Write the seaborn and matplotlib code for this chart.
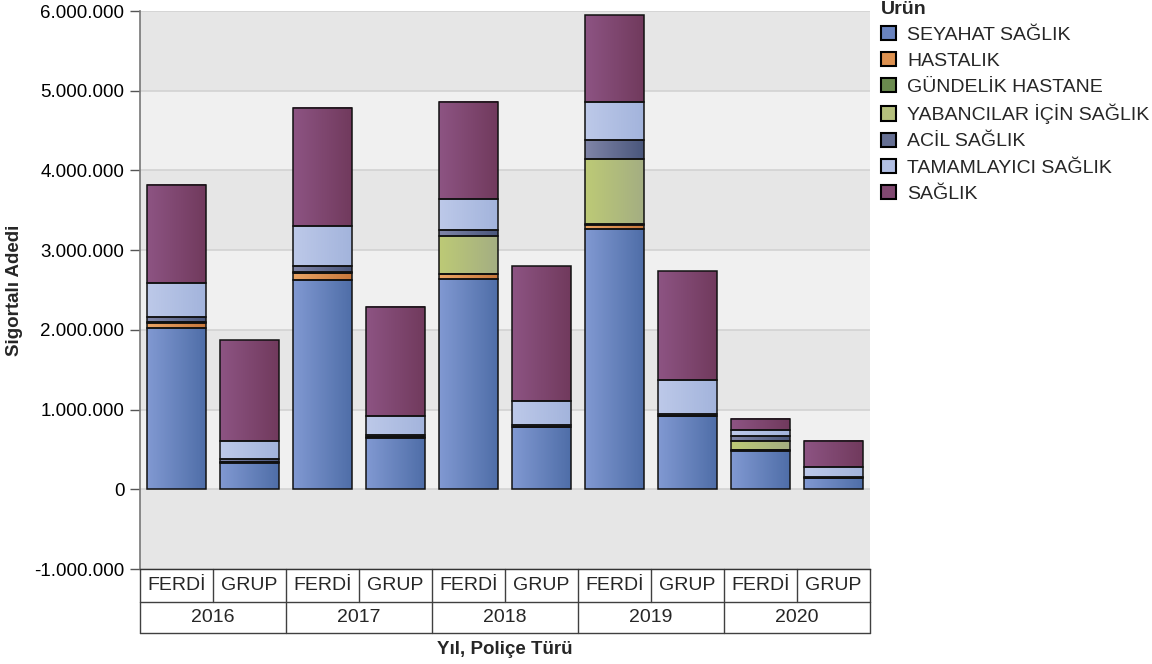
import numpy as np
import pandas as pd
import matplotlib
matplotlib.use('Agg')
import matplotlib.pyplot as plt
import matplotlib.transforms as mtrans
from matplotlib.patches import Patch
from matplotlib.ticker import FuncFormatter, FixedLocator
from matplotlib.colors import to_rgb
import seaborn as sns

# ---------------- data ----------------
years = ['2016', '2017', '2018', '2019', '2020']
policy_types = ['FERDİ', 'GRUP']
products = ['SEYAHAT SAĞLIK', 'HASTALIK', 'GÜNDELİK HASTANE', 'YABANCILAR İÇİN SAĞLIK',
            'ACİL SAĞLIK', 'TAMAMLAYICI SAĞLIK', 'SAĞLIK']

# bar order: 2016 FERDİ, 2016 GRUP, 2017 FERDİ, ... 2020 GRUP
seyahat_saglik = [2020000, 335000, 2623000, 648000, 2640000, 777000, 3270000, 915000, 485000, 142000]
hastalik = [70000, 10000, 92000, 10000, 63000, 5000, 50000, 5000, 5000, 2000]
gundelik_hastane = [3000, 1000, 3000, 1000, 3000, 1000, 3000, 1000, 2000, 1000]
yabancilar_saglik = [3000, 0, 3000, 0, 471000, 0, 818000, 0, 113000, 0]
acil_saglik = [70000, 40000, 83000, 25000, 75000, 20000, 238000, 25000, 63000, 5000]
tamamlayici_saglik = [422000, 220000, 494000, 230000, 385000, 305000, 480000, 430000, 80000, 125000]
saglik = [1232000, 1262000, 1482000, 1373000, 1224000, 1692000, 1086000, 1366000, 138000, 335000]

y_ticks = [-1000000, 0, 1000000, 2000000, 3000000, 4000000, 5000000, 6000000]

# ---------------- style ----------------
sns.set_style('white')
plt.rcParams['font.family'] = ['Liberation Sans', 'DejaVu Sans']

series = [seyahat_saglik, hastalik, gundelik_hastane, yabancilar_saglik,
          acil_saglik, tamamlayici_saglik, saglik]
grad_left = ['#8199d2', '#eaa464', '#73985a', '#bdca76', '#8085a8', '#bdc9e9', '#8d5483']
grad_right = ['#4f6ea8', '#c8783c', '#56774a', '#a4ae82', '#4a577c', '#a3b4dc', '#713a5d']
mid_cols = ['#6983bf', '#dd9150', '#6a8a4e', '#b4bf7c', '#656f93', '#b1bfe3', '#804870']
palette = dict(zip(products, mid_cols))

bar_labels = [(y, p) for y in years for p in policy_types]
rows = []
for prod, vals in zip(products, series):
    for i, v in enumerate(vals):
        rows.append({'pos': i, 'Ürün': prod, 'Sigortalı Adedi': v})
df = pd.DataFrame(rows)

fig = plt.figure(figsize=(11.52, 6.64), dpi=100)
ax = fig.add_axes([140 / 1152, 1 - 569 / 664, 730 / 1152, 558 / 664])

# alternating bands + grid
for k in range(y_ticks[0] // 1000000, y_ticks[-1] // 1000000):
    ax.axhspan(k * 1e6, (k + 1) * 1e6, color='#e6e6e6' if k % 2 else '#f0f0f0', lw=0, zorder=0)
for t in y_ticks:
    ax.axhline(t, color='#d2d2d2', lw=1.2, zorder=1)

sns.histplot(data=df, x='pos', weights='Sigortalı Adedi', hue='Ürün',
             hue_order=products[::-1], multiple='stack', discrete=True, shrink=0.8,
             palette=palette, edgecolor='#111111', linewidth=1.1, alpha=1,
             legend=False, ax=ax, zorder=3)

# gradient fill for each bar segment
col_lookup = {tuple(np.round(to_rgb(c), 3)): i for i, c in enumerate(mid_cols)}
tgrad = np.linspace(0, 1, 64)[:, None]
for p in list(ax.patches):
    fc = tuple(np.round(p.get_facecolor()[:3], 3))
    if fc in col_lookup and p.get_height() > 0:
        i = col_lookup[fc]
        l = np.array(to_rgb(grad_left[i]))
        r = np.array(to_rgb(grad_right[i]))
        img = (l * (1 - tgrad) + r * tgrad)[None, :, :]
        x0, y0, w, h = p.get_x(), p.get_y(), p.get_width(), p.get_height()
        ax.imshow(img, extent=[x0, x0 + w, y0, y0 + h], aspect='auto',
                  interpolation='bilinear', zorder=2.9)
        p.set_facecolor('none')
        p.set_zorder(3)

ax.set_xlim(-0.5, len(bar_labels) - 0.5)
ax.set_ylim(y_ticks[0], y_ticks[-1])
ax.set_aspect('auto')

ax.yaxis.set_major_locator(FixedLocator(y_ticks))
ax.yaxis.set_major_formatter(FuncFormatter(lambda v, _: f"{int(round(v)):,}".replace(',', '.')))
ax.tick_params(axis='y', length=7.2, width=1, color='#555555', pad=4, labelsize=13.5,
               labelcolor='black', left=True)
ax.tick_params(axis='x', bottom=False, labelbottom=False)
ax.set_xlabel('')
ax.set_ylabel('')
for s in ['top', 'right']:
    ax.spines[s].set_visible(False)
ax.spines['left'].set_color('#777777')
ax.spines['left'].set_linewidth(1.2)
ax.spines['bottom'].set_color('#333333')
ax.spines['bottom'].set_linewidth(1.0)

# two-level category table below the axes
tr = mtrans.blended_transform_factory(ax.transData, ax.transAxes)
r1 = -33 / 558
r2 = -64 / 558
n = len(bar_labels)
lc = '#404040'
for b in range(n + 1):
    ax.plot([b - 0.5, b - 0.5], [0, r1], color=lc, lw=1, transform=tr, clip_on=False)
for b in range(0, n + 1, 2):
    ax.plot([b - 0.5, b - 0.5], [r1, r2], color=lc, lw=1, transform=tr, clip_on=False)
for yy in (r1, r2):
    ax.plot([-0.5, n - 0.5], [yy, yy], color=lc, lw=1, transform=tr, clip_on=False)
narrow = ['Liberation Sans Narrow', 'Liberation Sans', 'DejaVu Sans']
for i, (yr, pt) in enumerate(bar_labels):
    ax.text(i, r1 / 2, pt, transform=tr, ha='center', va='center', fontsize=14,
            family=narrow, clip_on=False)
for j, yr in enumerate(years):
    ax.text(2 * j + 0.5, (r1 + r2) / 2, yr, transform=tr, ha='center', va='center',
            fontsize=14, family=narrow, clip_on=False)

fig.text(505 / 1152, 1 - 650 / 664, 'Yıl, Poliçe Türü', ha='center', va='center',
         fontsize=13.5, fontweight='bold')
fig.text(15 / 1152, 1 - 290 / 664, 'Sigortalı Adedi', ha='center', va='center',
         rotation=90, fontsize=13.5, fontweight='bold')

handles = [Patch(facecolor=c, edgecolor='black', linewidth=1.5) for c in mid_cols]
leg = fig.legend(handles, products, title='Ürün', loc='upper left',
                 bbox_to_anchor=(881 / 1152, 1 - 0.5 / 664), frameon=False, fontsize=14,
                 title_fontproperties={'weight': 'bold', 'size': 14}, alignment='left',
                 handlelength=0.75, handleheight=0.75, handletextpad=0.6,
                 labelspacing=0.42, borderaxespad=0, borderpad=0.0)

fig.savefig('out.png', dpi=100)
